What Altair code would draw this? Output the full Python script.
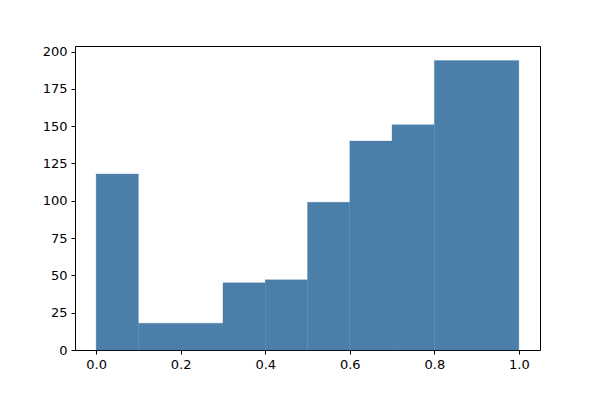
import altair as alt
import pandas as pd

bin_start = [0.0, 0.1, 0.3, 0.4, 0.5, 0.6, 0.7, 0.8]
bin_end = [0.1, 0.3, 0.4, 0.5, 0.6, 0.7, 0.8, 1.0]
counts = [118, 18, 45, 47, 99, 140, 151, 194]

df = pd.DataFrame({"start": bin_start, "end": bin_end, "count": counts})

x_ticks = [0.0, 0.2, 0.4, 0.6, 0.8, 1.0]
y_ticks = [0, 25, 50, 75, 100, 125, 150, 175, 200]

bars = alt.Chart(df).mark_rect(color="#4b7ea8", stroke="#4b7ea8", strokeWidth=0.3).encode(
    x=alt.X("start:Q", scale=alt.Scale(domain=[-0.05, 1.05], nice=False, zero=False),
            axis=alt.Axis(values=x_ticks, format=".1f", title=None, grid=False,
                          tickSize=4, labelPadding=4, domain=False)),
    x2="end:Q",
    y=alt.Y("count:Q", scale=alt.Scale(domain=[0, 203.7], nice=False),
            axis=alt.Axis(values=y_ticks, title=None, grid=False,
                          tickSize=4, labelPadding=4, domain=False)),
    y2=alt.datum(0),
)

chart = bars.properties(
    width=465, height=304,
    autosize=alt.AutoSizeParams(type="none"),
    padding={"left": 67, "top": 38, "right": 52, "bottom": 42},
).configure_view(
    stroke="black", strokeWidth=1
).configure_axis(
    labelFont="DejaVu Sans", labelFontSize=13, labelColor="black",
    tickColor="black", tickWidth=1,
)

chart.save("out.html", embed_options={"renderer": "svg", "actions": False})
